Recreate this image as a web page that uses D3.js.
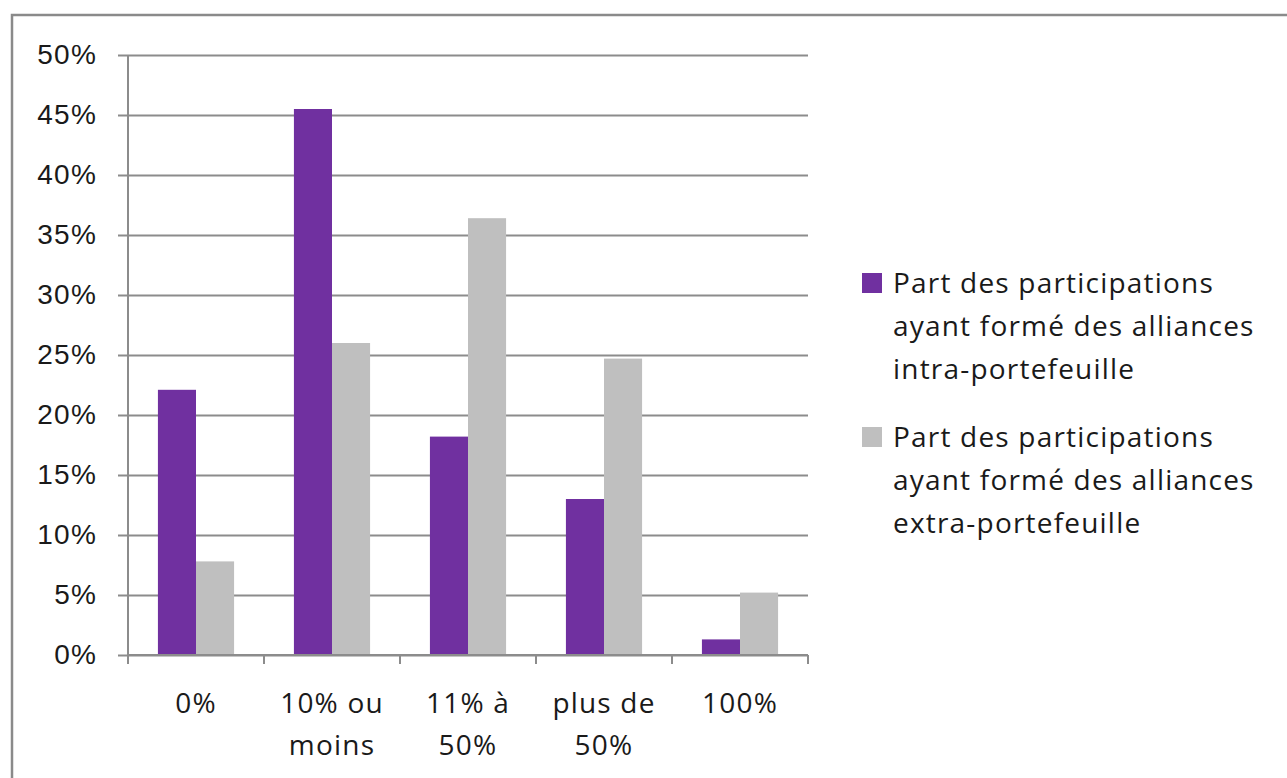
<!DOCTYPE html>
<html>
<head>
<meta charset="utf-8">
<script src="https://cdn.jsdelivr.net/npm/d3@7"></script>
<style>
    body { margin: 0; background: #fff; }
    svg { display: block; font-family: "Open Sans", Lato, sans-serif; letter-spacing: 1.2px; }
</style>
</head>
<body>
<svg width="1287" height="778"></svg>
<script>
const
    categories = [['0%'], ['10% ou', 'moins'], ['11% à', '50%'], ['plus de', '50%'], ['100%']],
    series = [
        'Part des participations ayant formé des alliances intra-portefeuille',
        'Part des participations ayant formé des alliances extra-portefeuille'
    ],
    legendLines = [
        ['Part des participations', 'ayant formé des alliances', 'intra-portefeuille'],
        ['Part des participations', 'ayant formé des alliances', 'extra-portefeuille']
    ],
    intra = [22.1, 45.5, 18.2, 13.0, 1.3],
    extra = [7.8, 26.0, 36.4, 24.7, 5.2],
    yTicks = [0, 5, 10, 15, 20, 25, 30, 35, 40, 45, 50],
    colors = ['#7030a0', '#bfbfbf']

const
    margin = { top: 55, left: 128, right: 479, bottom: 123 },
    width = 1287,
    height = 778,
    fontSize = 28

const svg = d3.select('svg')

// outer frame
svg.append('rect')
    .attr('x', 12).attr('y', 15)
    .attr('width', width).attr('height', height)
    .attr('fill', 'none')
    .attr('stroke', '#8a8a8a')
    .attr('stroke-width', 2.5)

const keys = categories.map(d => d.join(' '))

const x = d3.scaleBand()
    .domain(keys)
    .range([margin.left, width - margin.right])

const bw = x.bandwidth()
const x1 = d3.scaleBand()
    .domain([0, 1])
    .range([bw * 0.22, bw * 0.78])

const y = d3.scaleLinear()
    .domain([0, 50])
    .range([height - margin.bottom, margin.top])

// gridlines + y axis
const yAxis = svg.append('g')
    .attr('transform', `translate(${margin.left},0)`)
    .call(d3.axisLeft(y).tickValues(yTicks).tickFormat(d => d + '%')
        .tickSize(-(width - margin.right - margin.left)).tickPadding(31))
yAxis.select('.domain').remove()
yAxis.selectAll('.tick line')
    .attr('x1', -10)
    .attr('stroke', '#8c8c8c')
    .attr('stroke-width', 2)
yAxis.selectAll('.tick text')
    .attr('font-size', fontSize)
    .attr('fill', '#1a1a1a')

// bars
const rows = keys.map((k, i) => ({ key: k, values: [intra[i], extra[i]] }))

svg.append('g')
    .selectAll('g')
    .data(rows)
    .enter().append('g')
    .attr('transform', d => `translate(${x(d.key)},0)`)
    .selectAll('rect')
    .data(d => d.values.map((v, s) => ({ v, s })))
    .enter().append('rect')
    .attr('x', d => x1(d.s))
    .attr('y', d => y(d.v))
    .attr('width', x1.bandwidth())
    .attr('height', d => y(0) - y(d.v))
    .attr('fill', d => colors[d.s])

// y axis line
svg.append('line')
    .attr('x1', margin.left).attr('x2', margin.left)
    .attr('y1', margin.top).attr('y2', y(0) + 9)
    .attr('stroke', '#8c8c8c')
    .attr('stroke-width', 2)

// x axis
const xAxis = svg.append('g')
    .attr('transform', `translate(0,${y(0)})`)
xAxis.append('line')
    .attr('x1', margin.left).attr('x2', width - margin.right)
    .attr('stroke', '#8c8c8c')
    .attr('stroke-width', 2)
xAxis.selectAll('.xtick')
    .data(keys.map(k => x(k)).concat([width - margin.right]))
    .enter().append('line')
    .attr('x1', d => d).attr('x2', d => d)
    .attr('y1', 0).attr('y2', 9)
    .attr('stroke', '#8c8c8c')
    .attr('stroke-width', 2)

xAxis.selectAll('text')
    .data(categories)
    .enter().append('text')
    .attr('text-anchor', 'middle')
    .attr('font-size', fontSize)
    .attr('fill', '#1a1a1a')
    .attr('transform', (d, i) => `translate(${x(keys[i]) + bw / 2},58)`)
    .selectAll('tspan')
    .data(d => d)
    .enter().append('tspan')
    .attr('x', 0)
    .attr('dy', (d, i) => i === 0 ? 0 : 42)
    .text(d => d)

// legend
const legend = svg.append('g')
    .selectAll('g')
    .data(series)
    .enter().append('g')
    .attr('transform', (d, i) => `translate(862,${273 + i * 154})`)

legend.append('rect')
    .attr('width', 20).attr('height', 20)
    .attr('fill', (d, i) => colors[i])

legend.append('text')
    .attr('x', 31)
    .attr('y', 20)
    .attr('font-size', fontSize)
    .attr('fill', '#1a1a1a')
    .selectAll('tspan')
    .data((d, i) => legendLines[i])
    .enter().append('tspan')
    .attr('x', 31)
    .attr('dy', (d, i) => i === 0 ? 0 : 43)
    .text(d => d)
</script>
</body>
</html>
